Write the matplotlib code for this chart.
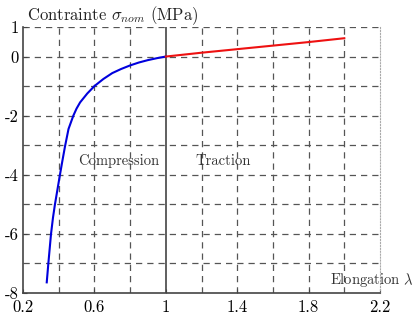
import matplotlib
matplotlib.use("Agg")
import matplotlib.pyplot as plt

plt.rcParams['font.family'] = 'serif'
plt.rcParams['font.serif'] = ['cmr10']
plt.rcParams['mathtext.fontset'] = 'cm'
plt.rcParams['axes.unicode_minus'] = False

# courbe en compression
lam_comp = [0.333, 0.342, 0.357, 0.368, 0.379, 0.407, 0.42, 0.435, 0.455, 0.482, 0.50, 0.52,
            0.56, 0.60, 0.65, 0.70, 0.75, 0.80, 0.85, 0.90, 0.95, 1.0]
sig_comp = [-7.64, -7.0, -6.0, -5.45, -5.0, -4.0, -3.55, -3.05, -2.45, -2.0, -1.76, -1.55,
            -1.25, -1.0, -0.76, -0.56, -0.42, -0.30, -0.20, -0.12, -0.055, 0.0]
# courbe en traction
lam_trac = [1.0, 1.2, 1.4, 1.6, 1.8, 2.0]
sig_trac = [0.0, 0.13, 0.25, 0.37, 0.49, 0.62]

xticks = [0.2, 0.6, 1.0, 1.4, 1.8, 2.2]
xticklabels = ['0.2', '0.6', '1', '1.4', '1.8', '2.2']
yticks = [1, 0, -2, -4, -6, -8]
yticklabels = ['1', '0', '-2', '-4', '-6', '-8']

fig = plt.figure(figsize=(4.16, 3.14), dpi=100)
ax = fig.add_axes([23/416, 1-293/314, 357/416, 266/314])

# grille pointillée
for x in [0.4, 0.6, 0.8, 1.2, 1.4, 1.6, 1.8, 2.0]:
    ax.axvline(x, color='#555555', lw=0.9, ls=(0, (5, 4)), zorder=1)
for y in range(-7, 2):
    ax.axhline(y, color='#555555', lw=0.9, ls=(0, (5, 4)), zorder=1)
ax.axvline(1.0, color='#444444', lw=1.2, zorder=2)

ax.plot(lam_comp, sig_comp, color='#0000dd', lw=1.5, zorder=3)
ax.plot(lam_trac, sig_trac, color='#ee1111', lw=1.5, zorder=3)

ax.set_xlim(0.2, 2.2)
ax.set_ylim(-8, 1)
ax.set_xticks(xticks)
ax.set_xticklabels(xticklabels)
ax.set_yticks(yticks)
ax.set_yticklabels(yticklabels)
ax.tick_params(direction='in', length=3, labelsize=12, color='#444444', pad=5)
ax.tick_params(axis='y', pad=3)

for s in ['left', 'bottom']:
    ax.spines[s].set_color('#444444')
    ax.spines[s].set_linewidth(1.2)
ax.spines['top'].set_visible(False)
ax.spines['right'].set_color('#aaaaaa')
ax.spines['right'].set_linestyle(':')
ax.spines['right'].set_linewidth(0.8)

ax.text(0.012, 1.0, r'Contrainte $\sigma_{nom}$ (MPa)', transform=ax.transAxes,
        fontsize=12, ha='left', va='bottom', color='#222222')
ax.text(0.738, -3.55, 'Compression', fontsize=10.5, ha='center', va='center', color='#333333')
ax.text(1.32, -3.55, 'Traction', fontsize=10.5, ha='center', va='center', color='#333333')
ax.text(2.39, -7.55, r'Elongation $\lambda$', fontsize=10.5, ha='right', va='center',
        color='#333333', clip_on=False)

fig.savefig('out.png', dpi=100)
